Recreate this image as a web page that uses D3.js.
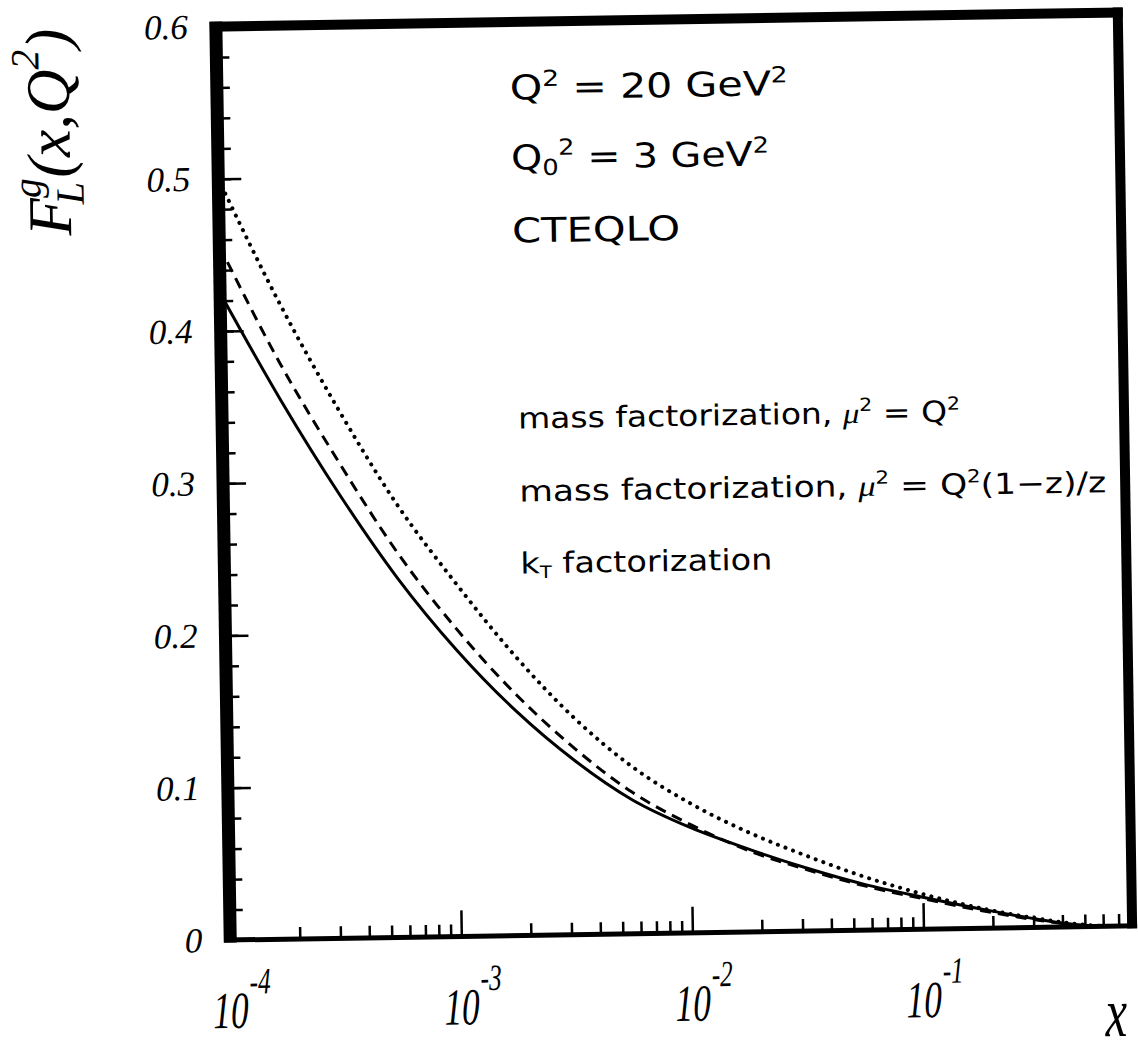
<!DOCTYPE html>
<html>
<head>
<meta charset="utf-8">
<script src="https://cdn.jsdelivr.net/npm/d3@7"></script>
<style>
body{margin:0;background:#fff;}
svg{display:block;}
.serif{font-family:"Liberation Serif","Times New Roman",serif;font-style:italic;}
.sans{font-family:"DejaVu Sans",sans-serif;}
</style>
</head>
<body>
<div id="canvas"></div>
<script>
// F_L^g(x,Q^2) at Q^2 = 20 GeV^2, three factorization schemes (CTEQLO)

// x grid (quarter decades) and the three curves
var xGrid  = [1e-4, 1.8e-4, 3.2e-4, 5.6e-4, 1e-3, 1.8e-3, 3.2e-3, 5.6e-3, 1e-2, 1.8e-2, 3.2e-2, 5.6e-2, 0.1, 0.18, 0.32, 0.45, 0.63];
var massQ2 = [0.500, 0.418, 0.347, 0.285, 0.232, 0.183, 0.142, 0.110, 0.085, 0.065, 0.049, 0.035, 0.023, 0.013, 0.0055, 0.002, 0.0];   // dotted
var massZ  = [0.456, 0.378, 0.312, 0.253, 0.202, 0.158, 0.122, 0.093, 0.071, 0.053, 0.040, 0.029, 0.020, 0.0115, 0.0045, 0.0012, 0.0]; // dashed
var ktFact = [0.425, 0.354, 0.291, 0.236, 0.188, 0.147, 0.114, 0.088, 0.069, 0.054, 0.041, 0.030, 0.021, 0.0125, 0.005, 0.0015, 0.0]; // solid

var yTickVals   = [0, 0.1, 0.2, 0.3, 0.4, 0.5, 0.6];
var yTickLabels = ['0', '0.1', '0.2', '0.3', '0.4', '0.5', '0.6'];
var xTickVals   = [1e-4, 1e-3, 1e-2, 1e-1];
var xTickExps   = ['-4', '-3', '-2', '-1'];

var W = 1138, H = 1054;
var m = {l:223, r:1125, t:19.5, b:933};

var svg = d3.select('#canvas').append('svg')
    .attr('width', W)
    .attr('height', H);

// the scanned page is tilted a little
var plot = svg.append('g').attr('transform', 'rotate(-0.9,674,476)');

var x = d3.scaleLog().domain([1e-4, 0.8]).range([m.l, m.r]);
var y = d3.scaleLinear().domain([0, 0.6]).range([m.b, m.t]);

// curves
plot.append('clipPath').attr('id', 'clip')
    .append('rect').attr('x', m.l).attr('y', m.t).attr('width', m.r - m.l).attr('height', m.b - m.t);

var line = d3.line()
    .x(function(d){ return x(d[0]); })
    .y(function(d){ return y(d[1]); })
    .curve(d3.curveMonotoneX);

var series = [
    {vals: massQ2, dash: '0.1 8', cap: 'round', w: 4},
    {vals: massZ,  dash: '11 7',  cap: 'butt',  w: 3},
    {vals: ktFact, dash: null,    cap: 'butt',  w: 3}
];

plot.append('g').attr('clip-path', 'url(#clip)')
    .selectAll('path').data(series).enter()
    .append('path')
    .attr('d', function(s){ return line(xGrid.map(function(v, i){ return [v, s.vals[i]]; })); })
    .attr('fill', 'none')
    .attr('stroke', '#000')
    .attr('stroke-width', function(s){ return s.w; })
    .attr('stroke-linecap', function(s){ return s.cap; })
    .attr('stroke-dasharray', function(s){ return s.dash; });

// ticks
function styleAxis(g){
    g.select('.domain').remove();
    g.selectAll('.tick line').attr('stroke', '#000').attr('stroke-width', 2.5);
}

var yMinor = d3.range(0, 0.601, 0.02);
plot.append('g').attr('transform', 'translate(' + m.l + ',0)')
    .call(d3.axisLeft(y).tickValues(yMinor).tickSize(-13).tickFormat(''))
    .call(styleAxis);

plot.append('g').attr('transform', 'translate(' + m.l + ',0)')
    .call(d3.axisLeft(y).tickValues(yTickVals).tickSize(-23).tickPadding(28)
        .tickFormat(function(d, i){ return yTickLabels[i]; }))
    .call(styleAxis)
    .selectAll('text')
    .attr('class', 'serif')
    .attr('font-size', 35)
    .attr('fill', '#000');

var xMinor = x.ticks().filter(function(v){ return xTickVals.indexOf(v) < 0 && v <= 0.8; });
plot.append('g').attr('transform', 'translate(0,' + m.b + ')')
    .call(d3.axisBottom(x).tickValues(xMinor).tickSize(-12).tickFormat(''))
    .call(styleAxis);

plot.append('g').attr('transform', 'translate(0,' + m.b + ')')
    .call(d3.axisBottom(x).tickValues(xTickVals).tickSize(-26).tickFormat(''))
    .call(styleAxis);

// x tick labels: narrow "10" with superscript exponent
xTickVals.forEach(function(v, i){
    var lab = plot.append('g')
        .attr('transform', 'translate(' + (x(v) - 18) + ',' + (m.b + 88) + ') scale(0.68,1)');
    var base = lab.append('text').attr('class', 'serif').attr('font-size', 52).text('10');
    var bw = base.node().getComputedTextLength();
    lab.append('text').attr('class', 'serif').attr('font-size', 37)
        .attr('x', bw + 2).attr('y', -34).text(xTickExps[i]);
});

// frame
var frame = [
    {x1: m.l, y1: m.t - 5, x2: m.l, y2: m.b + 2.5, w: 13},
    {x1: m.l - 6, y1: m.t, x2: m.r + 5, y2: m.t, w: 10},
    {x1: m.r, y1: m.t - 5, x2: m.r, y2: m.b + 2.5, w: 10},
    {x1: m.l - 6, y1: m.b, x2: m.r + 5, y2: m.b, w: 5}
];
plot.selectAll('.frame').data(frame).enter()
    .append('line').attr('class', 'frame')
    .attr('x1', function(d){ return d.x1; }).attr('y1', function(d){ return d.y1; })
    .attr('x2', function(d){ return d.x2; }).attr('y2', function(d){ return d.y2; })
    .attr('stroke', '#000').attr('stroke-width', function(d){ return d.w; });

// axis titles
plot.append('g').attr('transform', 'translate(' + 1097 + ',' + 1043 + ') scale(0.7,1)')
    .append('text').attr('class', 'serif').attr('font-size', 70).text('x');

var yt = plot.append('g').attr('transform', 'translate(75,226) rotate(-90)');
var pieces = [
    {t: 'F', s: 62, dy: 0},
    {t: 'g', s: 40, dy: -30, stack: 'L'},
    {t: '(', s: 62, dy: 0},
    {t: 'x', s: 62, dy: 0},
    {t: ',', s: 62, dy: 0},
    {t: 'Q', s: 62, dy: 0},
    {t: '2', s: 40, dy: -30},
    {t: ')', s: 62, dy: 0}
];
var cur = 0;
pieces.forEach(function(p){
    var t = yt.append('text').attr('class', 'serif').attr('font-size', p.s)
        .attr('x', cur).attr('y', p.dy).text(p.t);
    var wd = t.node().getComputedTextLength();
    if (p.stack) {
        var t2 = yt.append('text').attr('class', 'serif').attr('font-size', p.s)
            .attr('x', cur - 7).attr('y', 13).text(p.stack);
        wd = Math.max(wd, t2.node().getComputedTextLength() - 7);
    }
    cur += wd;
});

// annotations
function sup(t, s){ t.append('tspan').attr('font-size', 22).attr('dy', -13).text(s); }
function down(t, s, dy){ t.append('tspan').attr('dy', dy).text(s); }

var a1 = plot.append('text').attr('class', 'sans').attr('font-size', 34)
    .attr('x', 516).attr('y', 97).attr('textLength', 278).attr('lengthAdjust', 'spacingAndGlyphs');
a1.append('tspan').text('Q');
sup(a1, '2');
down(a1, ' = 20 GeV', 13);
sup(a1, '2');

var a2 = plot.append('text').attr('class', 'sans').attr('font-size', 34)
    .attr('x', 516).attr('y', 167).attr('textLength', 258).attr('lengthAdjust', 'spacingAndGlyphs');
a2.append('tspan').text('Q');
a2.append('tspan').attr('font-size', 22).attr('dy', 6).text('0');
a2.append('tspan').attr('font-size', 22).attr('dy', -20).text('2');
down(a2, ' = 3 GeV', 14);
sup(a2, '2');

plot.append('text').attr('class', 'sans').attr('font-size', 34)
    .attr('x', 516).attr('y', 240).attr('textLength', 168).attr('lengthAdjust', 'spacingAndGlyphs')
    .text('CTEQLO');

function mu(t){
    t.append('tspan').attr('font-family', 'Liberation Serif').attr('font-style', 'italic').text('\u03bc');
    t.append('tspan').attr('font-size', 18).attr('dy', -12).text('2');
}

var l1 = plot.append('text').attr('class', 'sans').attr('font-size', 29)
    .attr('x', 519).attr('y', 426).attr('textLength', 442).attr('lengthAdjust', 'spacingAndGlyphs');
l1.append('tspan').text('mass factorization, ');
mu(l1);
down(l1, ' = Q', 12);
l1.append('tspan').attr('font-size', 18).attr('dy', -12).text('2');

var l2 = plot.append('text').attr('class', 'sans').attr('font-size', 29)
    .attr('x', 519).attr('y', 499).attr('textLength', 587).attr('lengthAdjust', 'spacingAndGlyphs');
l2.append('tspan').text('mass factorization, ');
mu(l2);
down(l2, ' = Q', 12);
l2.append('tspan').attr('font-size', 18).attr('dy', -12).text('2');
down(l2, '(1\u2212z)/z', 12);

var l3 = plot.append('text').attr('class', 'sans').attr('font-size', 29)
    .attr('x', 519).attr('y', 571).attr('textLength', 252).attr('lengthAdjust', 'spacingAndGlyphs');
l3.append('tspan').text('k');
l3.append('tspan').attr('font-size', 17).attr('dy', 5).text('T');
down(l3, ' factorization', -5);
</script>
</body>
</html>
